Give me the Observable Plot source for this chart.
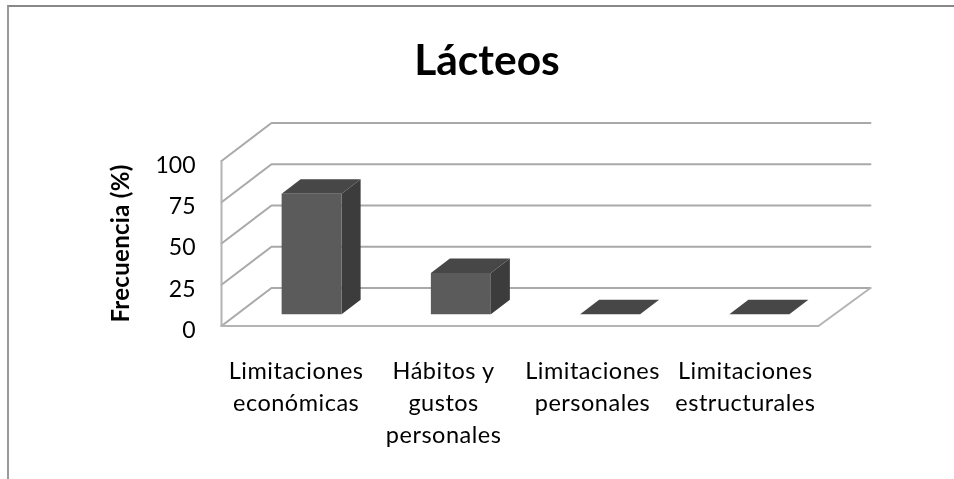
<!DOCTYPE html>
<html><head><meta charset="utf-8">
<script src="https://cdn.jsdelivr.net/npm/d3@7"></script>
<script src="https://cdn.jsdelivr.net/npm/@observablehq/plot@0.6"></script>
<style>
html,body{margin:0;padding:0;background:#fff;overflow:hidden}
#wrap{position:relative;width:954px;height:479px;filter:blur(0.5px)}
#frame{position:absolute;left:7px;top:5px;right:-5px;bottom:-5px;border-top:2px solid #888;border-left:2px solid #999}
#title{position:absolute;left:0;width:974px;top:34px;text-align:center;font:700 42.5px Lato,sans-serif;line-height:50px;color:#000}
svg{position:absolute;left:0;top:0}
.cat{letter-spacing:0.5px}
.ylab{letter-spacing:0.3px;font-weight:700}
</style></head><body>
<div id="wrap"><div id="frame"></div><div id="title">Lácteos</div></div>
<script>
const categories = ["Limitaciones\neconómicas","Hábitos y\ngustos\npersonales","Limitaciones\npersonales","Limitaciones\nestructurales"];
const values = [73, 25, 0, 0];
const yTicks = [0, 25, 50, 75, 100];
const yLabel = "Frecuencia (%)";

// Oblique projection: depth 1 shifts a point right and up, in data units
const depthX = 50 / 149.25, depthY = 23.03;
const barWidth = 0.402;           // share of a category band
const depthNear = 0.31, depthFar = 0.69;
const labelNudge = [0, -0.012, -0.014, 0.01];
const backEnd = categories.length + 0.013;
const P = (c, v, d, key) => ({x: c + d * depthX, y: v + d * depthY, key});

const grid = yTicks.flatMap(v => [
  P(0, v, 0, "g" + v), P(0, v, 1, "g" + v), P(backEnd, v, 1, "g" + v)
]);
const axisLines = [
  P(0, 0, 0, "wall"), P(0, yTicks[yTicks.length - 1], 0, "wall"),
  P(0, 0, 0, "floor"), P(categories.length, 0, 0, "floor"), P(backEnd, 0, 1, "floor")
];
const sideFaces = [], topFaces = [], frontFaces = [];
values.forEach((v, i) => {
  const l = i + 0.5 - barWidth / 2, r = i + 0.5 + barWidth / 2;
  const k = "b" + i;
  sideFaces.push(P(r,0,depthNear,k), P(r,v,depthNear,k), P(r,v,depthFar,k), P(r,0,depthFar,k));
  topFaces.push(P(l,v,depthNear,k), P(r,v,depthNear,k), P(r,v,depthFar,k), P(l,v,depthFar,k));
  frontFaces.push(P(l,0,depthNear,k), P(r,0,depthNear,k), P(r,v,depthNear,k), P(l,v,depthNear,k));
});
const face = (data, fill) => Plot.line(data, {x:"x", y:"y", z:"key", fill, stroke:"none", curve:"linear-closed"});

const chart = Plot.plot({
  width: 954, height: 479,
  marginLeft: 221, marginRight: 86, marginTop: 122.5, marginBottom: 153.5,
  style: {background:"transparent", fontFamily:"Lato, sans-serif", color:"#000"},
  x: {domain:[0, categories.length + depthX], axis:null},
  y: {domain:[0, 100 + depthY], axis:null},
  marks: [
    Plot.line(grid, {x:"x", y:"y", z:"key", stroke:"#a9a9a9", strokeWidth:2}),
    Plot.line(axisLines, {x:"x", y:"y", z:"key", stroke:"#b4b4b4", strokeWidth:2}),
    face(sideFaces, "#3c3c3c"),
    face(topFaces, "#474747"),
    face(frontFaces, "#5b5b5b"),
    Plot.text(yTicks, {x:() => 0, y:d => d, text:d => String(d), textAnchor:"end", dx:-26, dy:4.5, fontSize:23, fill:"#000"}),
    Plot.text([yLabel], {x:() => 0, y:() => 50, rotate:-90, dx:-100, fontSize:24, fontWeight:700, fill:"#000", className:"ylab"}),
    Plot.text(categories, {x:(d,i) => i + 0.5 + labelNudge[i], y:() => 0, text:d => d, lineAnchor:"top", dy:30.5, lineHeight:1.36, fontSize:23.5, fill:"#000", className:"cat"})
  ]
});
document.getElementById("wrap").appendChild(chart);
</script>
</body></html>
